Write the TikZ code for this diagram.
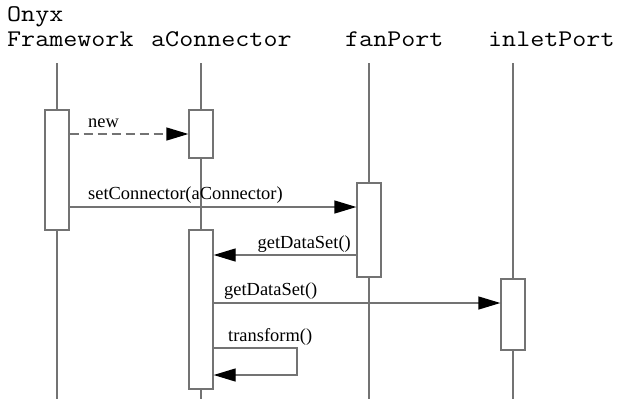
\documentclass[tikz,border=0pt]{standalone}
\usepackage{fontspec}
\setmainfont{Liberation Serif}
\newfontfamily\headfont[FakeStretch=1.14]{Latin Modern Mono}
\usetikzlibrary{arrows.meta}
\begin{document}
\begin{tikzpicture}[x=1bp,y=-1bp,
  line/.style={draw=black!55,line width=1.3bp},
  act/.style={line,fill=white,minimum width=24bp,inner sep=0pt},
  msg/.style={line,-{Triangle[length=22bp,width=13bp,black]}},
  head/.style={font=\fontsize{24}{25}\selectfont\headfont,inner sep=0pt,anchor=base west},
  lbl/.style={font=\fontsize{18.5}{20}\selectfont,inner sep=0pt}]
\useasboundingbox (0,0) rectangle (619,399);
%
\node[head](onyx) at (7,21) {Onyx};
\node[head](fw) at (7,46) {Framework};
\node[head](conn) at (151,46) {aConnector};
\node[head](fan) at (345,46) {fanPort};
\node[head](inlet) at (488,46) {inletPort};
%
\coordinate(onyxtop) at (57,63);
\coordinate(onyxbot) at (57,399);
\draw[line](onyxtop) -- (onyxbot);
\coordinate(conntop) at (201,63);
\coordinate(connbot) at (201,399);
\draw[line](conntop) -- (connbot);
\coordinate(fantop) at (369,63);
\coordinate(fanbot) at (369,399);
\draw[line](fantop) -- (fanbot);
\coordinate(inlettop) at (513,63);
\coordinate(inletbot) at (513,399);
\draw[line](inlettop) -- (inletbot);
%
\node[act,minimum height=120bp](onyxA) at (57,170) {};
\node[act,minimum height=48bp](connA) at (201,134) {};
\node[act,minimum height=159bp](connB) at (201,309.5) {};
\node[act,minimum height=94bp](fanA) at (369,230) {};
\node[act,minimum height=71bp](inletA) at (513,314.5) {};
%
\draw[msg,dashed,dash pattern=on 9bp off 5bp](onyxA.east |- connA.west) -- (connA.west);
\node[lbl,anchor=base west](new) at (88,127) {new};
%
\draw[msg](onyxA.east |- 0,207) -- (fanA.west |- 0,207);
\node[lbl,anchor=base west](setc) at (88,199) {setConnector(aConnector)};
%
\draw[msg](fanA.west |- 0,255) -- (connB.east |- 0,255);
\node[lbl,anchor=base east](gds1) at (351,248) {getDataSet()};
%
\draw[msg](connB.east |- 0,303) -- (inletA.west |- 0,303);
\node[lbl,anchor=base west](gds2) at (224,295) {getDataSet()};
%
\coordinate(loopa) at (297,348);
\coordinate(loopb) at (297,375);
\draw[msg](connB.east |- loopa) -- (loopa) -- (loopb) -- (connB.east |- loopb);
\node[lbl,anchor=base west](trans) at (228,341) {transform()};
\end{tikzpicture}
\end{document}
